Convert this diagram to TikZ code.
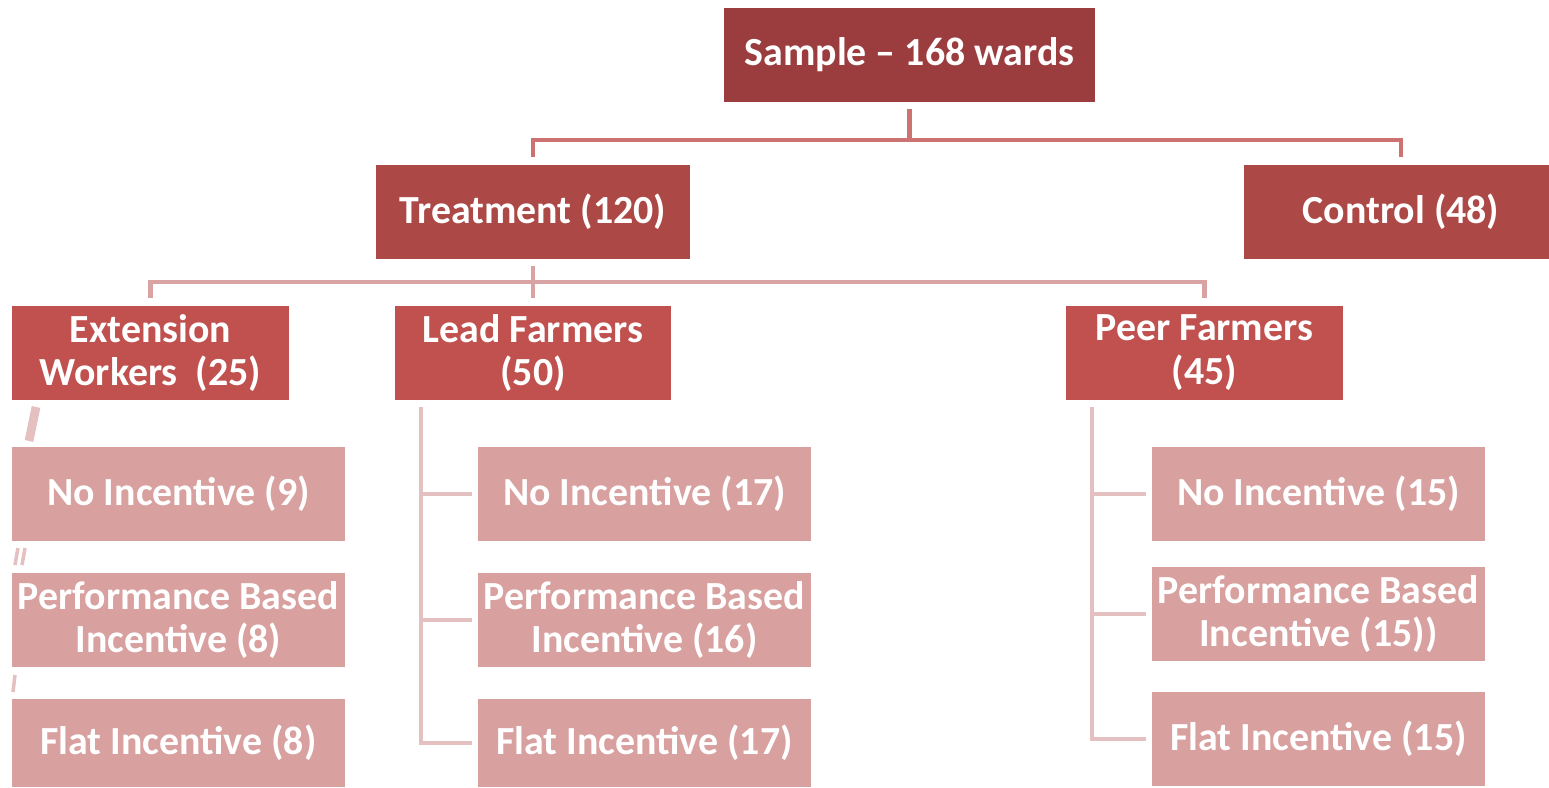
\documentclass[tikz,border=0pt]{standalone}
\usepackage{fontspec}
\setmainfont{Carlito}
\usetikzlibrary{positioning}
\definecolor{samplered}{HTML}{9B3D3E}
\definecolor{groupred}{HTML}{AC4846}
\definecolor{armred}{HTML}{C0514E}
\definecolor{leafpink}{HTML}{D8A09F}
\definecolor{linkred}{HTML}{CD7272}
\definecolor{linkpink}{HTML}{DAA3A3}
\definecolor{linklight}{HTML}{E5C0C0}
\tikzset{
	boxnode/.style={
			shape=rectangle,
			text=white,
			font=\fontsize{22.7}{25}\selectfont\bfseries,
			align=center,
			inner sep=0pt,
			minimum height=1.88cm
		},
	topnode/.style={
			boxnode,
			fill=samplered
		},
	groupnode/.style={
			boxnode,
			fill=groupred,
			minimum width=6.28cm
		},
	armnode/.style={
			boxnode,
			fill=armred,
			minimum width=5.54cm
		},
	leafnode/.style={
			boxnode,
			fill=leafpink,
			minimum width=6.66cm
		}
}
\tikzset{
	toplink/.style={draw=linkred, line width=2.8pt},
	armlink/.style={draw=linkpink, line width=2.8pt},
	leaflink/.style={draw=linklight, line width=2.8pt}
}

\begin{document}
\begin{tikzpicture}[x=0.02cm, y=-0.02cm]
  \useasboundingbox (0,0) rectangle (1549,788);

  % top levels
  \node[topnode, minimum width=7.42cm] (sample) at (909.5,55) {Sample -- 168 wards};
  \node[groupnode] (treat) at (533,212) {Treatment (120)};
  \node[groupnode] (control) at (1401,212) {Control (48)};

  \node[armnode] (ext) at (150.5,353) {Extension\\Workers\ \ (25)};
  \node[armnode] (lead) at (533,353) {Lead Farmers\\(50)};
  \node[armnode] (peer) at (1204.5,353) {Peer Farmers\\(45)};

  % incentive arms
  \node[leafnode] (eni) at (178.5,494) {No Incentive (9)};
  \node[leafnode] (epb) at (178.5,620) {Performance Based\\Incentive (8)};
  \node[leafnode, minimum height=1.76cm] (efi) at (178.5,743) {Flat Incentive (8)};

  \node[leafnode] (lni) at (644.5,494) {No Incentive (17)};
  \node[leafnode] (lpb) at (644.5,620) {Performance Based\\Incentive (16)};
  \node[leafnode, minimum height=1.76cm] (lfi) at (644.5,743) {Flat Incentive (17)};

  \node[leafnode] (pni) at (1318.5,494) {No Incentive (15)};
  \node[leafnode] (ppb) at (1318.5,614) {Performance Based\\Incentive (15))};
  \node[leafnode] (pfi) at (1318.5,739) {Flat Incentive (15)};

  \coordinate (split) at (909.5,140);
  \coordinate (fork) at (533,282);
  \coordinate (leadbar) at (421,407);
  \coordinate (peerbar) at (1092,407);

  \draw[toplink, shorten <=0.14cm] (sample.south) -- (split);
  \draw[toplink, shorten <=0.16cm, shorten >=0.16cm] (treat.north) |- (split) -| (control.north);

  \draw[armlink, shorten <=0.14cm] (treat.south) -- (fork);
  \draw[armlink, shorten <=0.16cm, shorten >=0.16cm] (ext.north) |- (fork) -| (peer.north);
  \draw[armlink, shorten >=0.16cm] (fork) -- (lead.north);

  \draw[leaflink, shorten >=0.12cm] (leadbar) |- (lni.west);
  \draw[leaflink, shorten >=0.12cm] (leadbar) |- (lpb.west);
  \draw[leaflink, shorten >=0.12cm] (leadbar) |- (lfi.west);

  \draw[leaflink, shorten >=0.12cm] (peerbar) |- (pni.west);
  \draw[leaflink, shorten >=0.12cm] (peerbar) |- (ppb.west);
  \draw[leaflink, shorten >=0.12cm] (peerbar) |- (pfi.west);

  % broken stubs under extension workers
  \draw[leaflink, line width=5pt] (29,441) -- (36,407);
  \draw[leaflink, line width=2pt] (15,565) -- (18,548);
  \draw[leaflink, line width=2pt] (22,565) -- (25,548);
  \draw[leaflink, line width=2pt] (13,692) -- (15,675);

\end{tikzpicture}
\end{document}
